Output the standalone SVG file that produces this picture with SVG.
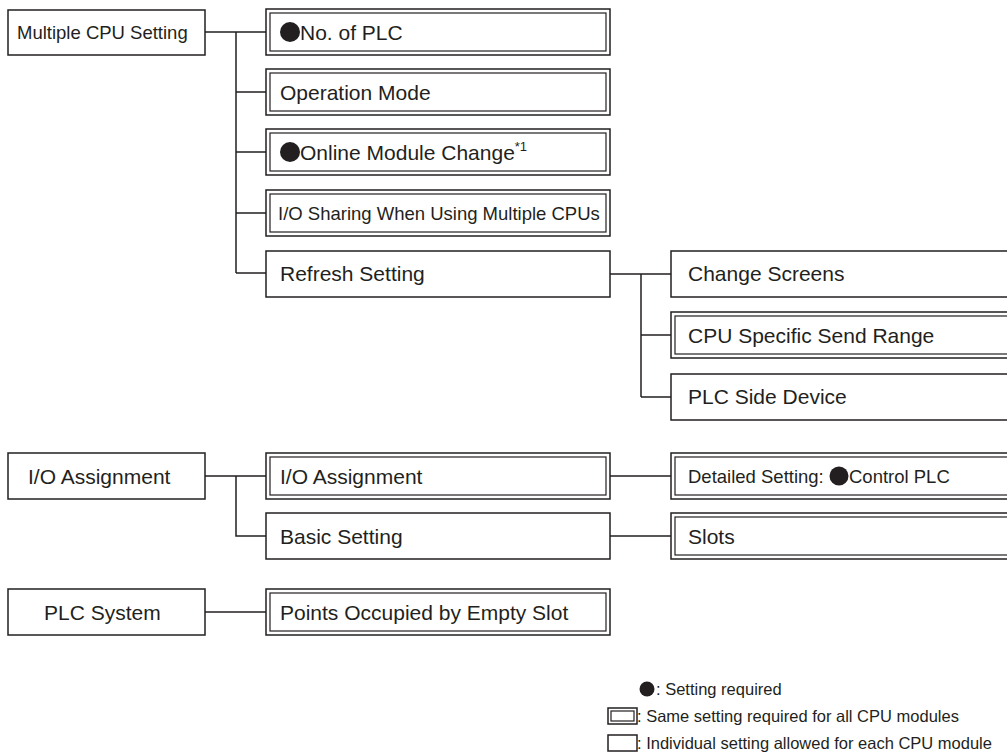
<svg xmlns="http://www.w3.org/2000/svg" width="1007" height="756" viewBox="0 0 1007 756">
<style>
.b{fill:#fff;stroke:#231f20;stroke-width:1.5}
.i{fill:none;stroke:#231f20;stroke-width:1.2}
.c{fill:none;stroke:#231f20;stroke-width:1.5}
.t{font-family:"Liberation Sans",Arial,sans-serif;font-size:21px;fill:#231f20}
.s{font-family:"Liberation Sans",Arial,sans-serif;font-size:18.5px;fill:#231f20}
.l{font-family:"Liberation Sans",Arial,sans-serif;font-size:16.5px;fill:#231f20}
.d{fill:#231f20}
</style>
<rect width="1007" height="756" fill="#fff"/>
<g id="connectors">
<path class="c" d="M205,32H266M236,32V273M236,92H266M236,152H266M236,213H266M236,273H266"/>
<path class="c" d="M610,274H671M641,274V397M641,335H671M641,397H671"/>
<path class="c" d="M205,476H266M236,476V536H266M610,476H671M610,536H671"/>
<path class="c" d="M205,612H266"/>
</g>
<g id="n-multi"><rect class="b" x="8" y="10" width="197" height="45"/><text class="s" x="17" y="39">Multiple CPU Setting</text></g>
<g id="n-noplc"><rect class="b" x="266" y="9" width="344" height="46"/><rect class="i" x="270" y="13" width="336" height="38"/><circle class="d" cx="290" cy="32" r="10"/><text class="t" x="300" y="40">No. of PLC</text></g>
<g id="n-opmode"><rect class="b" x="266" y="69" width="344" height="46"/><rect class="i" x="270" y="73" width="336" height="38"/><text class="t" x="280" y="100">Operation Mode</text></g>
<g id="n-online"><rect class="b" x="266" y="129" width="344" height="46"/><rect class="i" x="270" y="133" width="336" height="38"/><circle class="d" cx="290" cy="152" r="10"/><text class="t" x="300" y="160">Online Module Change<tspan font-size="13" dy="-9">*1</tspan></text></g>
<g id="n-iosharing"><rect class="b" x="266" y="190" width="344" height="46"/><rect class="i" x="270" y="194" width="336" height="38"/><text class="s" x="278" y="220">I/O Sharing When Using Multiple CPUs</text></g>
<g id="n-refresh"><rect class="b" x="266" y="251" width="344" height="46"/><text class="t" x="280" y="281">Refresh Setting</text></g>
<g id="n-change"><rect class="b" x="671" y="251" width="345" height="46"/><text class="t" x="688" y="281">Change Screens</text></g>
<g id="n-cpusend"><rect class="b" x="671" y="312" width="345" height="46"/><rect class="i" x="675" y="316" width="345" height="38"/><text class="t" x="688" y="343">CPU Specific Send Range</text></g>
<g id="n-plcside"><rect class="b" x="671" y="374" width="345" height="46"/><text class="t" x="688" y="404">PLC Side Device</text></g>
<g id="n-ioroot"><rect class="b" x="8" y="453" width="197" height="46"/><text class="t" x="28" y="484">I/O Assignment</text></g>
<g id="n-ioassign"><rect class="b" x="266" y="453" width="344" height="46"/><rect class="i" x="270" y="457" width="336" height="38"/><text class="t" x="280" y="484">I/O Assignment</text></g>
<g id="n-basic"><rect class="b" x="266" y="513" width="344" height="46"/><text class="t" x="280" y="544">Basic Setting</text></g>
<g id="n-detailed"><rect class="b" x="671" y="453" width="345" height="46"/><rect class="i" x="675" y="457" width="345" height="38"/><text class="s" x="688" y="483">Detailed Setting: </text><circle class="d" cx="839" cy="476" r="9.5"/><text class="s" x="849" y="483">Control PLC</text></g>
<g id="n-slots"><rect class="b" x="671" y="513" width="345" height="46"/><rect class="i" x="675" y="517" width="345" height="38"/><text class="t" x="688" y="544">Slots</text></g>
<g id="n-plcsys"><rect class="b" x="8" y="589" width="197" height="46"/><text class="t" x="44" y="620">PLC System</text></g>
<g id="n-points"><rect class="b" x="266" y="589" width="344" height="46"/><rect class="i" x="270" y="593" width="336" height="38"/><text class="t" x="280" y="620">Points Occupied by Empty Slot</text></g>
<g id="legend">
<circle class="d" cx="647" cy="689" r="7.5"/><text class="l" x="656" y="695">: Setting required</text>
<rect class="b" x="608" y="708" width="29" height="16"/><rect class="i" x="611" y="711" width="23" height="10"/><text class="l" x="637" y="722">: Same setting required for all CPU modules</text>
<rect class="b" x="608" y="735" width="29" height="16"/><text class="l" x="637" y="749">: Individual setting allowed for each CPU module</text>
</g>
</svg>
